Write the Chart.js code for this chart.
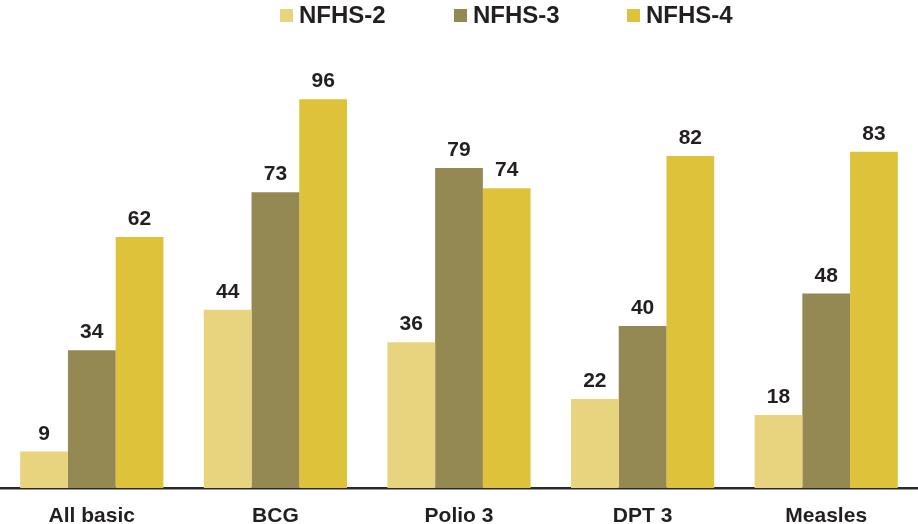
<!DOCTYPE html>
<html>
<head>
<meta charset="utf-8">
<script src="https://cdn.jsdelivr.net/npm/chart.js@4.4.0/dist/chart.umd.min.js"></script>
<style>
  html, body { margin: 0; padding: 0; background: #fff; }
  #wrap { width: 918px; height: 524px; }
</style>
</head>
<body>
<div id="wrap"><canvas id="vaccChart"></canvas></div>
<script>
    'use strict';

    var categories = ["All basic", "BCG", "Polio 3", "DPT 3", "Measles"];
    var nfhs2 = [9, 44, 36, 22, 18];
    var nfhs3 = [34, 73, 79, 40, 48];
    var nfhs4 = [62, 96, 74, 82, 83];

    var colNfhs2 = '#e8d47e';
    var colNfhs3 = '#948952';
    var colNfhs4 = '#dec23a';
    var textCol = '#231f20';
    var fontFam = '"Liberation Sans", Arial, sans-serif';

    // numbers above each bar
    var valueLabels = {
        id: 'valueLabels',
        afterDatasetsDraw: function (chart) {
            var ctx = chart.ctx;
            ctx.save();
            ctx.font = 'bold 21px ' + fontFam;
            ctx.fillStyle = textCol;
            ctx.textAlign = 'center';
            ctx.textBaseline = 'alphabetic';
            chart.data.datasets.forEach(function (ds, i) {
                chart.getDatasetMeta(i).data.forEach(function (bar, j) {
                    ctx.fillText(ds.data[j], bar.x, bar.y - 12);
                });
            });
            ctx.restore();
        }
    };

    // legend drawn by hand so the spacing matches
    var topLegend = {
        id: 'topLegend',
        afterDraw: function (chart) {
            var ctx = chart.ctx;
            var xs = [280, 454, 627];
            ctx.save();
            ctx.font = 'bold 24px ' + fontFam;
            ctx.textBaseline = 'alphabetic';
            ctx.textAlign = 'left';
            chart.data.datasets.forEach(function (ds, i) {
                ctx.fillStyle = ds.backgroundColor;
                ctx.fillRect(xs[i], 9, 13, 13);
                ctx.fillStyle = textCol;
                ctx.fillText(ds.label, xs[i] + 19, 23);
            });
            ctx.restore();
        }
    };

    new Chart(document.getElementById('vaccChart'), {
        type: 'bar',
        data: {
            labels: categories,
            datasets: [
                { label: 'NFHS-2', data: nfhs2, backgroundColor: colNfhs2 },
                { label: 'NFHS-3', data: nfhs3, backgroundColor: colNfhs3 },
                { label: 'NFHS-4', data: nfhs4, backgroundColor: colNfhs4 }
            ]
        },
        options: {
            responsive: true,
            maintainAspectRatio: false,
            animation: false,
            layout: { padding: { left: 0, right: 0, top: 83, bottom: -21 } },
            datasets: {
                bar: { categoryPercentage: 0.78, barPercentage: 1.0 }
            },
            plugins: {
                tooltip: { enabled: false },
                legend: { display: false }
            },
            scales: {
                x: {
                    grid: { display: false, drawTicks: false },
                    border: { display: true, color: '#2a2a2a', width: 2.5 },
                    ticks: {
                        color: textCol,
                        padding: 18,
                        font: { family: fontFam, size: 21, weight: 'bold', lineHeight: 1.0 }
                    }
                },
                y: {
                    display: false,
                    min: 0,
                    max: 100
                }
            }
        },
        plugins: [valueLabels, topLegend]
    });
</script>
</body>
</html>
